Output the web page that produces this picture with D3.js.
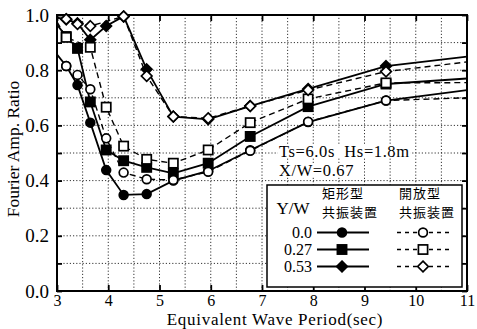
<!DOCTYPE html>
<html>
<head>
<meta charset="utf-8">
<script src="https://cdn.jsdelivr.net/npm/d3@7"></script>
<style>
  body { margin: 0; background: #fff; }
  text { font-family: "Liberation Serif", "Times New Roman", serif; fill: #000; }
  .cjk { font-family: "Noto Sans CJK JP", "Noto Sans CJK SC", sans-serif; }
</style>
</head>
<body>
<svg id="chart" width="477" height="329"></svg>
<script>
// period (sec) / Fourier amplitude ratio pairs
const rect00 = [[2.9,0.88],[3.18,0.815],[3.40,0.746],[3.65,0.61],[3.96,0.438],[4.30,0.348],[4.75,0.351],[5.27,0.40],[5.95,0.435],[6.77,0.51],[7.90,0.612],[9.42,0.69],[11,0.728]];
const rect27 = [[3.0,0.965],[3.18,0.922],[3.40,0.879],[3.65,0.685],[3.96,0.511],[4.30,0.472],[4.75,0.448],[5.27,0.426],[5.95,0.463],[6.77,0.56],[7.90,0.668],[9.42,0.75],[11,0.77]];
const rect53 = [[3.0,0.99],[3.18,0.985],[3.40,0.97],[3.65,0.91],[3.96,0.96],[4.30,0.995],[4.75,0.803],[5.27,0.632],[5.95,0.622],[6.77,0.67],[7.90,0.732],[9.42,0.815],[11,0.849]];
const open00 = [[3.18,0.815],[3.40,0.783],[3.65,0.731],[3.96,0.553],[4.30,0.429],[4.75,0.405],[5.27,0.402],[5.95,0.432],[6.77,0.508],[7.90,0.613],[9.42,0.69],[11,0.70]];
const open27 = [[3.0,0.975],[3.18,0.919],[3.65,0.883],[3.96,0.666],[4.30,0.525],[4.75,0.477],[5.27,0.463],[5.95,0.511],[6.77,0.61],[7.90,0.696],[9.42,0.754],[11,0.755]];
const open53 = [[3.18,0.985],[3.40,0.967],[3.65,0.96],[4.30,0.995],[4.75,0.779],[5.27,0.632],[5.95,0.626],[6.77,0.67],[7.90,0.728],[9.42,0.795],[11,0.83]];

const xTicks = [3, 4, 5, 6, 7, 8, 9, 10, 11];
const yTicks = [0, 0.2, 0.4, 0.6, 0.8, 1.0];
const ywLabels = ["0.0", "0.27", "0.53"];
const shapes = ["circle", "square", "diamond"];

const svg = d3.select("#chart");
const m = { left: 57, right: 467, top: 15, bottom: 291 };

const x = d3.scaleLinear().domain([3, 11]).range([m.left, m.right]);
const y = d3.scaleLinear().domain([0, 1]).range([m.bottom, m.top]);

// dotted grid
const grid = svg.append("g").attr("stroke", "#000").attr("stroke-width", 0.8)
  .attr("stroke-dasharray", "1.2,2");
d3.range(3.5, 11, 0.5).forEach(t => {
  grid.append("line").attr("x1", x(t)).attr("x2", x(t)).attr("y1", y(0)).attr("y2", y(1));
});
d3.range(0.1, 1, 0.1).forEach(v => {
  grid.append("line").attr("x1", x(3)).attr("x2", x(11)).attr("y1", y(v)).attr("y2", y(v));
});

// axes with inward ticks
const tickFmt = d3.format(".1f");
svg.append("g").attr("class", "xaxis").attr("transform", `translate(0,${m.bottom})`)
  .call(d3.axisBottom(x).tickValues(xTicks).tickSizeInner(-6).tickSizeOuter(0).tickPadding(4));
svg.append("g").attr("class", "yaxis").attr("transform", `translate(${m.left},0)`)
  .call(d3.axisLeft(y).tickValues(d3.range(0, 1.01, 0.1)).tickSizeInner(-5).tickSizeOuter(0)
    .tickPadding(8).tickFormat(d => yTicks.some(v => Math.abs(v - d) < 1e-6) ? tickFmt(d) : ""));
svg.append("g").attr("transform", `translate(0,${m.top})`)
  .call(d3.axisTop(x).tickValues(xTicks).tickSizeInner(-6).tickSizeOuter(0).tickFormat(""));
svg.append("g").attr("transform", `translate(${m.right},0)`)
  .call(d3.axisRight(y).tickValues(d3.range(0, 1.01, 0.1)).tickSizeInner(-5).tickSizeOuter(0).tickFormat(""));
svg.selectAll(".domain").remove();
svg.selectAll(".tick line").attr("stroke", "#000").attr("stroke-width", 1.8);
svg.selectAll(".tick text").attr("font-family", '"Liberation Serif", serif');
svg.selectAll(".xaxis .tick text").attr("font-size", 16);
svg.selectAll(".yaxis .tick text").attr("font-size", 19);

svg.append("rect").attr("x", m.left).attr("y", m.top)
  .attr("width", m.right - m.left).attr("height", m.bottom - m.top)
  .attr("fill", "none").attr("stroke", "#000").attr("stroke-width", 2);

// axis titles
svg.append("text").attr("x", 275).attr("y", 325)
  .attr("text-anchor", "middle").style("font-size", "17px").style("letter-spacing", "0.7px")
  .text("Equivalent Wave Period(sec)");
svg.append("text").attr("transform", `translate(19,${(m.top + m.bottom) / 2 - 4}) rotate(-90)`)
  .attr("text-anchor", "middle").style("font-size", "17.5px").text("Fourier Amp. Ratio");

// condition text with white backing
function labelBox(tx, ty, str) {
  const t = svg.append("text").attr("x", tx).attr("y", ty)
    .style("font-size", "16.5px").style("letter-spacing", "0.6px").text(str);
  const b = t.node().getBBox();
  svg.insert("rect", () => t.node()).attr("x", b.x - 1).attr("y", b.y + 3)
    .attr("width", b.width + 2).attr("height", b.height - 6).attr("fill", "#fff");
}
labelBox(279, 157, "Ts=6.0s\u00a0\u00a0Hs=1.8m");
labelBox(279, 176, "X/W=0.67");

// markers
function marker(g, shape, filled, cx, cy) {
  const fill = filled ? "#000" : "#fff";
  if (shape === "circle") {
    g.append("circle").attr("cx", cx).attr("cy", cy).attr("r", 4.4)
      .attr("fill", fill).attr("stroke", "#000").attr("stroke-width", 1.7);
  } else if (shape === "square") {
    g.append("rect").attr("x", cx - 4.6).attr("y", cy - 4.6).attr("width", 9.2).attr("height", 9.2)
      .attr("fill", fill).attr("stroke", "#000").attr("stroke-width", 1.7);
  } else {
    const r = 5.3;
    g.append("path").attr("d", `M${cx},${cy - r}L${cx + r},${cy}L${cx},${cy + r}L${cx - r},${cy}Z`)
      .attr("fill", fill).attr("stroke", "#000").attr("stroke-width", 1.7);
  }
}

svg.append("clipPath").attr("id", "plotClip").append("rect")
  .attr("x", m.left).attr("y", m.top - 6).attr("width", m.right - m.left).attr("height", m.bottom - m.top + 6);

const line = d3.line().x(d => x(d[0])).y(d => y(d[1]));
const series = [
  { data: rect00, shape: "circle", filled: true },
  { data: rect27, shape: "square", filled: true },
  { data: rect53, shape: "diamond", filled: true },
  { data: open00, shape: "circle", filled: false },
  { data: open27, shape: "square", filled: false },
  { data: open53, shape: "diamond", filled: false }
];

const linesG = svg.append("g").attr("clip-path", "url(#plotClip)");
series.forEach(s => {
  linesG.append("path").datum(s.data).attr("d", line).attr("fill", "none")
    .attr("stroke", "#000").attr("stroke-width", s.filled ? 1.8 : 1.4)
    .attr("stroke-dasharray", s.filled ? null : "6,4");
});
const markG = svg.append("g");
series.forEach(s => {
  s.data.filter(d => d[0] > 3.05 && d[0] < 10.9)
    .forEach(d => marker(markG, s.shape, s.filled, x(d[0]), y(d[1])));
});

// legend
const lg = svg.append("g");
lg.append("rect").attr("x", 267).attr("y", 185).attr("width", 195).attr("height", 102)
  .attr("fill", "#fff").attr("stroke", "#000").attr("stroke-width", 1.5);
lg.append("text").attr("x", 293).attr("y", 214).attr("text-anchor", "middle")
  .style("font-size", "17px").text("Y/W");
[["矩形型", 322, 197.5], ["共振装置", 322, 216.5], ["開放型", 399, 197.5], ["共振装置", 399, 216.5]].forEach(t => {
  lg.append("text").attr("class", "cjk").attr("x", t[1]).attr("y", t[2])
    .style("font-size", "13px").style("letter-spacing", "1px").text(t[0]);
});
ywLabels.forEach((lab, i) => {
  const cy = 232.5 + i * 17;
  lg.append("text").attr("x", 312).attr("y", cy + 5.5).attr("text-anchor", "end")
    .style("font-size", "16px").text(lab);
  lg.append("line").attr("x1", 317).attr("x2", 369).attr("y1", cy).attr("y2", cy)
    .attr("stroke", "#000").attr("stroke-width", 1.8);
  marker(lg, shapes[i], true, 342, cy);
  lg.append("line").attr("x1", 397).attr("x2", 451).attr("y1", cy).attr("y2", cy)
    .attr("stroke", "#000").attr("stroke-width", 1.4).attr("stroke-dasharray", "4,4");
  marker(lg, shapes[i], false, 423, cy);
});
</script>
</body>
</html>
